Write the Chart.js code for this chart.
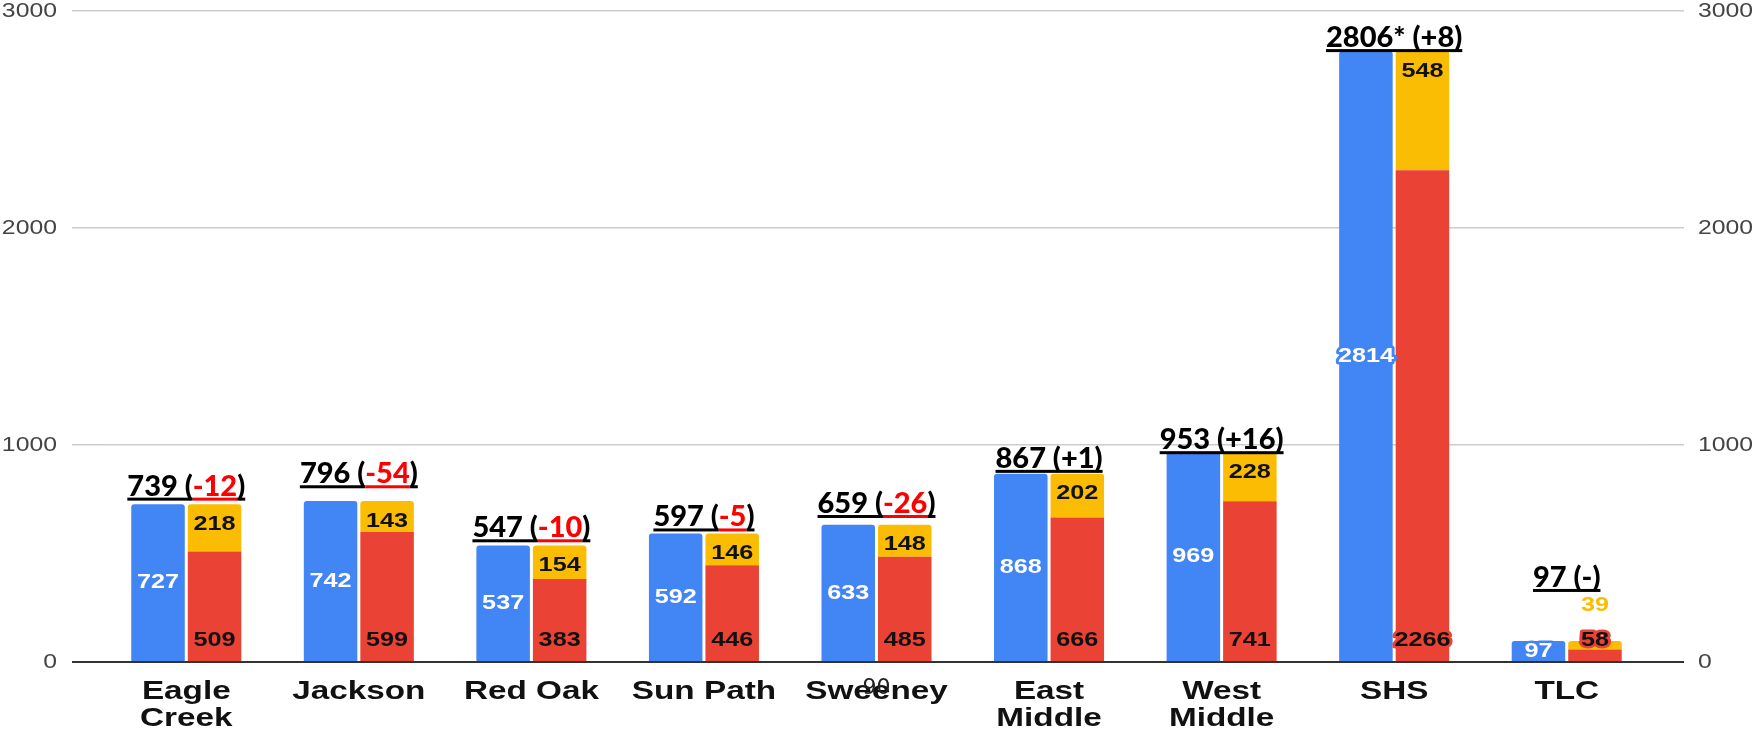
<!DOCTYPE html>
<html>
<head>
<meta charset="utf-8">
<title>Enrollment by school</title>
<script src="https://cdn.jsdelivr.net/npm/chart.js@4.4.1/dist/chart.umd.min.js"></script>
<style>
  html, body { margin: 0; padding: 0; background: #fff; }
  #wrap { width: 1756px; height: 733px; position: relative; }
</style>
</head>
<body>
<div id="wrap"><canvas id="chart"></canvas></div>
<script>
// Data
const schools = [["Eagle", "Creek"], "Jackson", "Red Oak", "Sun Path", "Sweeney", ["East", "Middle"], ["West", "Middle"], "SHS", "TLC"];
const blueValues = [727, 742, 537, 592, 633, 868, 969, 2814, 97];
const redValues = [509, 599, 383, 446, 485, 666, 741, 2266, 58];
const yellowValues = [218, 143, 154, 146, 148, 202, 228, 548, 39];
const totalLabels = ["739", "796", "547", "597", "659", "867", "953", "2806*", "97"];
const totalValues = [739, 796, 547, 597, 659, 867, 953, 2806, 97];
const changeLabels = ["-12", "-54", "-10", "-5", "-26", "+1", "+16", "+8", "-"];
const strayLabels = ["", "", "", "", "90", "", "", "", ""];
const yMin = 0, yMax = 3000, yStep = 1000;

const BLUE = "#4285F4", RED = "#EA4335", YELLOW = "#FBBC04";

const gridColor = c => c.tick && c.tick.value === 0 ? "#333333" : "#cccccc";
const gridWidth = c => c.tick && c.tick.value === 0 ? 2 : 1.5;

// the source image is stretched sideways, so axis labels get drawn stretched too
function stretched(Base, id, factor) {
  class S extends Base {
    getLabelItems(area) {
      return super.getLabelItems(area).map(it => ({
        ...it,
        options: { ...it.options, translation: [it.options.translation[0] / factor, it.options.translation[1]] }
      }));
    }
    _computeLabelArea() {
      const a = super._computeLabelArea();
      return a && { ...a, left: a.left / factor, right: a.right / factor };
    }
    drawLabels(area) {
      this.ctx.save();
      this.ctx.scale(factor, 1);
      super.drawLabels(area);
      this.ctx.restore();
    }
  }
  S.id = id;
  S.defaults = Base.defaults;
  return S;
}
Chart.register(stretched(Chart.CategoryScale, "wideCategory", 1.28), stretched(Chart.LinearScale, "wideLinear", 1.18));

// in-bar value labels, Google Sheets style (halo in bar colour)
function barLabel(ctx, text, x, y, fill, halo) {
  ctx.save();
  ctx.translate(x, y);
  ctx.scale(1.2, 1);
  ctx.font = "bold 21px 'Liberation Sans', Arial";
  ctx.textAlign = "center";
  ctx.textBaseline = "middle";
  if (halo) {
    ctx.lineJoin = "round";
    ctx.lineWidth = 5;
    ctx.strokeStyle = halo;
    ctx.strokeText(text, 0, 0);
  }
  ctx.fillStyle = fill;
  ctx.fillText(text, 0, 0);
  ctx.restore();
}

const labelsPlugin = {
  id: "labels",
  afterDatasetsDraw(chart) {
    const ctx = chart.ctx;
    const yScale = chart.scales.y;
    const xScale = chart.scales.x;
    const blue = chart.getDatasetMeta(0).data;
    const red = chart.getDatasetMeta(1).data;
    const yellow = chart.getDatasetMeta(2).data;
    ctx.save();
    schools.forEach((s, i) => {
      const b = blue[i], r = red[i], yl = yellow[i];
      barLabel(ctx, String(blueValues[i]), b.x, (b.y + b.base) / 2, "#ffffff", BLUE);
      barLabel(ctx, String(redValues[i]), r.x, r.base - 21, "#111111", RED);
      let top = yScale.getPixelForValue(totalValues[i]);
      if (yl.base - yl.y >= 30) {
        barLabel(ctx, String(yellowValues[i]), yl.x, yl.y + 20, "#111111", YELLOW);
      } else {
        const ly = yl.y - 36;
        barLabel(ctx, String(yellowValues[i]), yl.x, ly, YELLOW, null);
        top = ly - 12;
      }

      // total + change annotation, underlined
      const cx = xScale.getPixelForValue(i);
      const baseY = top - 6;
      const parts = [[totalLabels[i] + " (", "#000000"]];
      if (changeLabels[i].startsWith("-") && changeLabels[i] !== "-") {
        parts.push([changeLabels[i], "#ff0000"]);
        parts.push([")", "#000000"]);
      } else {
        parts[0][0] += changeLabels[i] + ")";
      }
      ctx.font = "900 29px Lato";
      ctx.textAlign = "left";
      ctx.textBaseline = "alphabetic";
      const total = parts.reduce((w, p) => w + ctx.measureText(p[0]).width, 0);
      let x = cx - total / 2;
      parts.forEach(([t, col]) => {
        const w = ctx.measureText(t).width;
        ctx.fillStyle = col;
        ctx.fillText(t, x, baseY);
        ctx.fillRect(x, baseY + 2, w, 3);
        x += w;
      });

      if (strayLabels[i]) {
        ctx.font = "22px 'DejaVu Sans'";
        ctx.textAlign = "center";
        ctx.textBaseline = "middle";
        ctx.fillStyle = "#222222";
        ctx.fillText(strayLabels[i], cx, chart.chartArea.bottom + 26);
      }
    });
    ctx.restore();
  }
};

const yTick = v => String(v);
const tickFont = { family: "'Liberation Sans', Arial", size: 21 };

new Chart(document.getElementById("chart"), {
  type: "bar",
  data: {
    labels: schools,
    datasets: [
      { label: "Series 1", data: blueValues, backgroundColor: BLUE, stack: "a",
        borderRadius: { topLeft: 3, topRight: 3 }, borderSkipped: "start" },
      { label: "Series 2", data: redValues, backgroundColor: RED, stack: "b" },
      { label: "Series 3", data: yellowValues, backgroundColor: YELLOW, stack: "b",
        borderRadius: { topLeft: 3, topRight: 3 }, borderSkipped: "start" }
    ]
  },
  options: {
    responsive: true,
    maintainAspectRatio: false,
    animation: false,
    categoryPercentage: 0.655,
    barPercentage: 0.947,
    layout: { padding: 0 },
    plugins: { legend: { display: false }, tooltip: { enabled: false } },
    scales: {
      x: {
        type: "wideCategory",
        stacked: true,
        grid: { display: false, drawTicks: false },
        border: { display: false },
        ticks: {
          color: "#111111",
          padding: 16,
          maxRotation: 0,
          autoSkip: false,
          font: { family: "'Liberation Sans', Arial", weight: "bold", size: 26, lineHeight: 1.04 }
        },
        afterFit: s => { s.height = 71; }
      },
      y: {
        type: "wideLinear",
        position: "left",
        stacked: true,
        min: yMin, max: yMax,
        border: { display: false },
        grid: { color: gridColor, tickColor: gridColor, lineWidth: gridWidth, tickLength: 28 },
        ticks: { stepSize: yStep, padding: 15, color: "#444444", callback: yTick, font: tickFont },
        afterFit: s => { s.width = 100; s.paddingTop = 11; s.paddingBottom = 0; }
      },
      y2: {
        type: "wideLinear",
        position: "right",
        min: yMin, max: yMax,
        border: { display: false },
        grid: { drawOnChartArea: false, tickColor: gridColor, lineWidth: gridWidth, tickLength: 31 },
        ticks: { stepSize: yStep, padding: 14, color: "#444444", callback: yTick, font: tickFont },
        afterFit: s => { s.width = 103; s.paddingTop = 11; s.paddingBottom = 0; }
      }
    }
  },
  plugins: [labelsPlugin]
});
</script>
</body>
</html>
